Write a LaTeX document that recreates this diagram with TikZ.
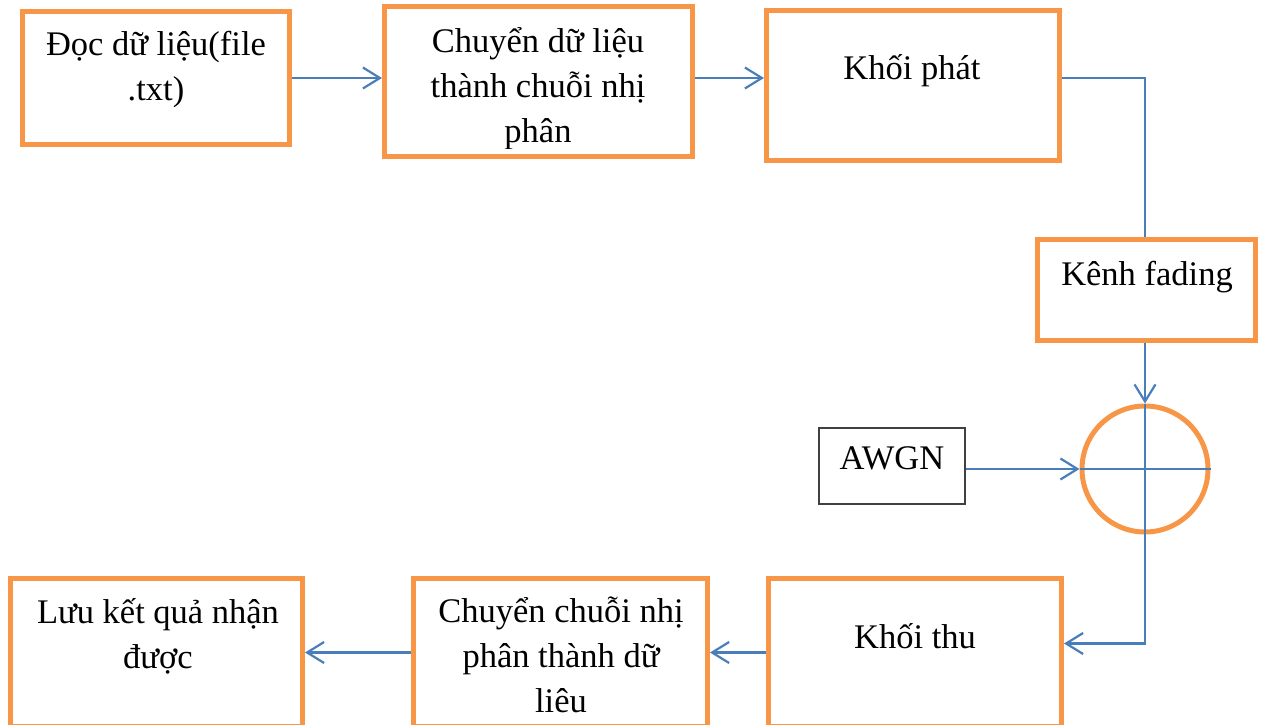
\documentclass[tikz,border=0pt]{standalone}
\usepackage{fontspec}
\setmainfont{Liberation Serif}
\usetikzlibrary{arrows.meta}
\definecolor{boxorange}{HTML}{F79646}
\definecolor{flowblue}{HTML}{4A7EBB}
\definecolor{darkline}{HTML}{404040}
\begin{document}
\begin{tikzpicture}[x=1pt,y=-1pt,
  block/.style={draw=boxorange,line width=5pt,rectangle,inner sep=0pt},
  plainbox/.style={draw=darkline,line width=1.8pt,rectangle,inner sep=0pt},
  summer/.style={draw=boxorange,line width=5pt,circle,inner sep=0pt,minimum size=126pt},
  txt/.style={anchor=base,align=center,inner sep=0pt,font=\fontsize{34.5pt}{45pt}\selectfont},
  flow/.style={draw=flowblue,line width=2.2pt},
  arr/.style={flow,-{Straight Barb[length=17pt,width=21pt,line width=2.2pt]}}]
\useasboundingbox (0,0) rectangle (1267,725);

% blocks of the transmitter chain
\node[block,minimum width=308pt,minimum height=150pt] (b2) at (538.5,81.5) {};
\node[block,minimum width=267pt,minimum height=133pt] (b1) at (156,78) {};
\node[block,minimum width=293pt,minimum height=150pt] (b3) at (913,85.5) {};
\node[block,minimum width=218pt,minimum height=101pt] (fade) at (1146.5,290) {};
\node[summer] (sum) at (1145,469) {};
\node[plainbox,minimum width=146pt,minimum height=76pt] (awgn) at (892,466) {};

% blocks of the receiver chain
\node[block,minimum width=293pt,minimum height=148pt] (rx) at (915,652.5) {};
\node[block,minimum width=294pt,minimum height=148pt] (dec) at (560.5,652.5) {};
\node[block,minimum width=292pt,minimum height=148pt] (save) at (156.5,652.5) {};

% labels (base anchor sits on the last line)
\node[txt] (b1t) at (156,100) {Đọc dữ liệu(file\\.txt)};
\begin{scope}
  % the text frame of this block is shorter than its text
  \clip (b2.north west) rectangle ([yshift=11pt]b2.south east);
  \node[txt] (b2t) at (538,142) {Chuyển dữ liệu\\thành chuỗi nhị\\phân};
\end{scope}
\node[txt] (b3t) at (912,80) {Khối phát};
\node[txt] (fadet) at (1147,285) {Kênh fading};
\node[txt] (awgnt) at (892,469) {AWGN};
\node[txt] (rxt) at (915,648) {Khối thu};
\node[txt] (dect) at (561,712) {Chuyển chuỗi nhị\\phân thành dữ\\liêu};
\node[txt] (savet) at (158,668) {Lưu kết quả nhận\\được};

% connectors
\draw[arr] (b1.east) -- (b1.east -| b2.west);
\draw[arr] (b2.east |- b1.east) -- (b3.west |- b1.east);
\draw[flow] (b3.east |- b1.east) -| (fade.north -| sum);
\draw[arr] (fade.south -| sum) -- (sum.north);
\draw[arr] (awgn.east |- sum) -- (sum.west);
\draw[flow] (sum.north) -- (sum.south);
\draw[flow] (sum.west) -- (sum.east);
\draw[arr] (sum.south) |- ([yshift=9pt]rx.east);
\draw[arr] (rx.west) -- (dec.east);
\draw[arr] (dec.west) -- (save.east);
\end{tikzpicture}
\end{document}
